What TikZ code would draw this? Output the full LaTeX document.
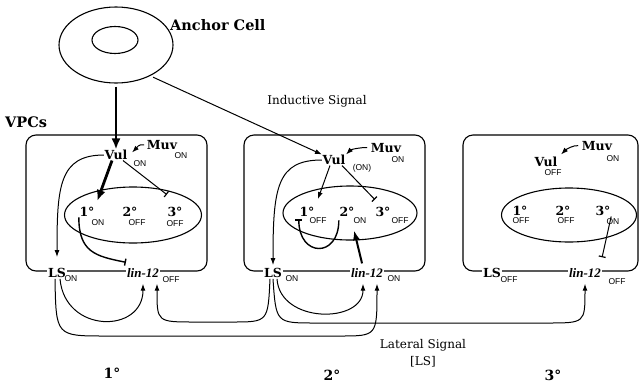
\documentclass[tikz,border=0pt]{standalone}
\usepackage{fontspec}
\setmainfont{DejaVu Serif}
\newfontfamily\subfont{Liberation Sans}
\newfontfamily\genefont{Liberation Serif}
\usetikzlibrary{arrows.meta,shapes.geometric}
\begin{document}
\begin{tikzpicture}[x=1pt,y=-1pt,
  cell/.style={draw, ellipse, line width=1.1pt, inner sep=0pt},
  title/.style={font=\bfseries\fontsize{14.5}{15}\selectfont, inner sep=0pt},
  note/.style={font=\fontsize{12}{13}\selectfont, inner sep=0pt},
  lbl/.style={font=\bfseries\fontsize{12.5}{13}\selectfont, inner sep=0.5pt},
  sub/.style={font=\subfont\fontsize{8.5}{9}\selectfont, inner sep=0pt},
  gene/.style={font=\genefont\bfseries\itshape\fontsize{13}{13}\selectfont, fill=white, inner sep=1pt},
  lsn/.style={lbl, fill=white, inner sep=1pt},
  cellbox/.style={draw, rounded corners=10pt, line width=1.1pt, minimum width=181pt, minimum height=136pt, inner sep=0pt},
  fate/.style={draw, ellipse, line width=1.1pt, minimum width=134pt, minimum height=54pt, inner sep=0pt},
  con/.style={line width=1pt, -{Latex[length=7pt,width=5pt]}},
  inh/.style={line width=1pt, -{Bar[width=7pt,line width=1.2pt]}},
  inhb/.style={line width=1.4pt, -{Bar[width=7pt,line width=1.4pt]}},
  bigcon/.style={line width=2.8pt, -{Latex[length=11pt,width=9pt]}},
  midcon/.style={line width=2pt, -{Latex[length=10pt,width=7pt]}},
  big/.style={font=\bfseries\fontsize{14}{15}\selectfont, inner sep=0pt}
]
\useasboundingbox (0,0) rectangle (641,384);

% anchor cell and titles
\node[cell, minimum width=114pt, minimum height=76pt] (ac) at (116,45) {};
\node[cell, minimum width=46pt, minimum height=27pt] (acn) at (115,40) {};
\node[title, anchor=west] (actxt) at (170,25) {Anchor Cell};
\node[title, anchor=west] (vpcs) at (5,122) {VPCs};
\node[note] (ind) at (317,101) {Inductive Signal};

% boxes and fate ellipses
\node[cellbox] (b1) at (116.5,203) {};
\node[cellbox] (b2) at (334.5,203) {};
\node[cellbox, minimum width=175pt] (b3) at (550.5,203) {};
\node[fate, minimum width=137pt, minimum height=56pt] (e1) at (133,215) {};
\node[fate] (e2) at (350,213) {};
\node[fate, minimum width=135pt] (e3) at (569,215) {};

% box 1 labels
\node[lbl] (vul1) at (116,155) {Vul};
\node[sub] (vul1s) at (140,164) {ON};
\node[lbl] (muv1) at (162,145) {Muv};
\node[sub] (muv1s) at (181,156) {ON};
\node[lbl] (one1) at (87,212) {1°};
\node[sub] (one1s) at (98,223) {ON};
\node[lbl] (two1) at (130,212) {2°};
\node[sub] (two1s) at (137,223) {OFF};
\node[lbl] (thr1) at (175,212) {3°};
\node[sub] (thr1s) at (175,224) {OFF};
\node[lsn] (ls1) at (57,273) {LS};
\node[sub] (ls1s) at (71,279) {ON};
\node[gene] (lin1) at (143,273) {lin-12};
\node[sub] (lin1s) at (171,280) {OFF};

% box 2 labels
\node[lbl] (vul2) at (334,160) {Vul};
\node[sub] (vul2s) at (362,168) {(ON)};
\node[lbl] (muv2) at (386,148) {Muv};
\node[sub] (muv2s) at (398,160) {ON};
\node[lbl] (one2) at (307,212) {1°};
\node[sub] (one2s) at (318,221) {OFF};
\node[lbl] (two2) at (347,212) {2°};
\node[sub] (two2s) at (360,221) {ON};
\node[lbl] (thr2) at (383,212) {3°};
\node[sub] (thr2s) at (400,221) {OFF};
\node[lsn] (ls2) at (273,273) {LS};
\node[sub] (ls2s) at (292,279) {ON};
\node[gene] (lin2) at (367,273) {lin-12};
\node[sub] (lin2s) at (394,279) {ON};

% box 3 labels
\node[lbl] (vul3) at (546,162) {Vul};
\node[sub] (vul3s) at (553,173) {OFF};
\node[lbl] (muv3) at (597,146) {Muv};
\node[sub] (muv3s) at (613,159) {ON};
\node[lbl] (one3) at (520,211) {1°};
\node[sub] (one3s) at (521,221) {OFF};
\node[lbl] (two3) at (563,211) {2°};
\node[sub] (two3s) at (566,221) {OFF};
\node[lbl] (thr3) at (603,211) {3°};
\node[sub] (thr3s) at (613,222) {ON};
\node[lsn] (ls3) at (492,273) {LS};
\node[sub] (ls3s) at (509,280) {OFF};
\node[gene] (lin3) at (585,273) {lin-12};
\node[sub] (lin3s) at (617,282) {OFF};

% bottom labels
\node[note] (lat) at (423,345) {Lateral Signal};
\node[note] (latls) at (423,362) {[LS]};
\node[big] (f1) at (112,373) {1°};
\node[big] (f2) at (332,375) {2°};
\node[big] (f3) at (553,375) {3°};

% inductive signal
\draw[bigcon, shorten <=3pt] (ac.south) -- (vul1.north);
\draw[con, shorten <=3pt] (ac.-42) -- (vul2.north west);

% box 1 connectors
\draw[con, shorten <=2pt] (muv1.west) .. controls +(-8,-1) and +(5,-5) .. ([xshift=4pt,yshift=-3pt]vul1.north east);
\draw[bigcon, shorten >=6pt] ([xshift=-4pt]vul1.south) -- (one1.north east);
\draw[inh] ([xshift=7pt]vul1.south) -- ([yshift=12pt]thr1.north west);
\draw[con, shorten >=10pt] (vul1.west) .. controls +(-45,0) and +(0,-80) .. (ls1.north);
\draw[inhb] (one1.south west) .. controls +(0,35) and +(-30,-6) .. ([yshift=5pt]lin1.north west);

% box 2 connectors
\draw[con, shorten <=3pt] (muv2.west) .. controls +(-8,-1) and +(5,-5) .. (vul2.north east);
\draw[con, shorten >=8pt] ([xshift=-4pt]vul2.south) -- (one2.north east);
\draw[inh] ([xshift=8pt]vul2.south) -- ([yshift=7pt]thr2.north west);
\draw[inhb] ([yshift=-3pt]two2.south west) .. controls +(0,38) and +(0,38) .. ([yshift=-2pt]one2.south west);
\draw[midcon, shorten <=4pt] ([xshift=-4pt]lin2.north) -- ([xshift=-6pt,yshift=-6pt]two2s.south);
\draw[con, shorten >=2pt] (vul2.west) .. controls +(-45,0) and +(0,-80) .. (ls2.north);

% box 3 connectors
\draw[con, shorten <=3pt] (muv3.west) .. controls +(-8,-1) and +(5,-5) .. ([xshift=3pt,yshift=2pt]vul3.north east);
\draw[inh] (thr3.south east) -- ([yshift=10pt]lin3.north east);

% lateral signal connectors
\draw[con, shorten >=5pt] ([xshift=3pt]ls1.south) .. controls +(5,55) and +(0,55) .. (lin1.south);
\draw[con, shorten >=5pt] ([xshift=-2pt]ls1.south) .. controls (56,336) .. (105,336) -- (340,336) .. controls (377,336) .. ([xshift=10pt]lin2.south);
\draw[con, shorten >=5pt] ([xshift=-3pt]ls2.south) .. controls (268,322) .. (232,322) -- (195,322) .. controls (157,322) .. ([xshift=14pt]lin1.south);
\draw[con, shorten >=5pt] ([xshift=4pt]ls2.south) .. controls +(3,45) and +(0,45) .. ([xshift=-4pt]lin2.south);
\draw[con, shorten >=5pt] (ls2.south) .. controls (276,323) .. (315,323) -- (547,323) .. controls (585,323) .. (lin3.south);
\end{tikzpicture}
\end{document}
